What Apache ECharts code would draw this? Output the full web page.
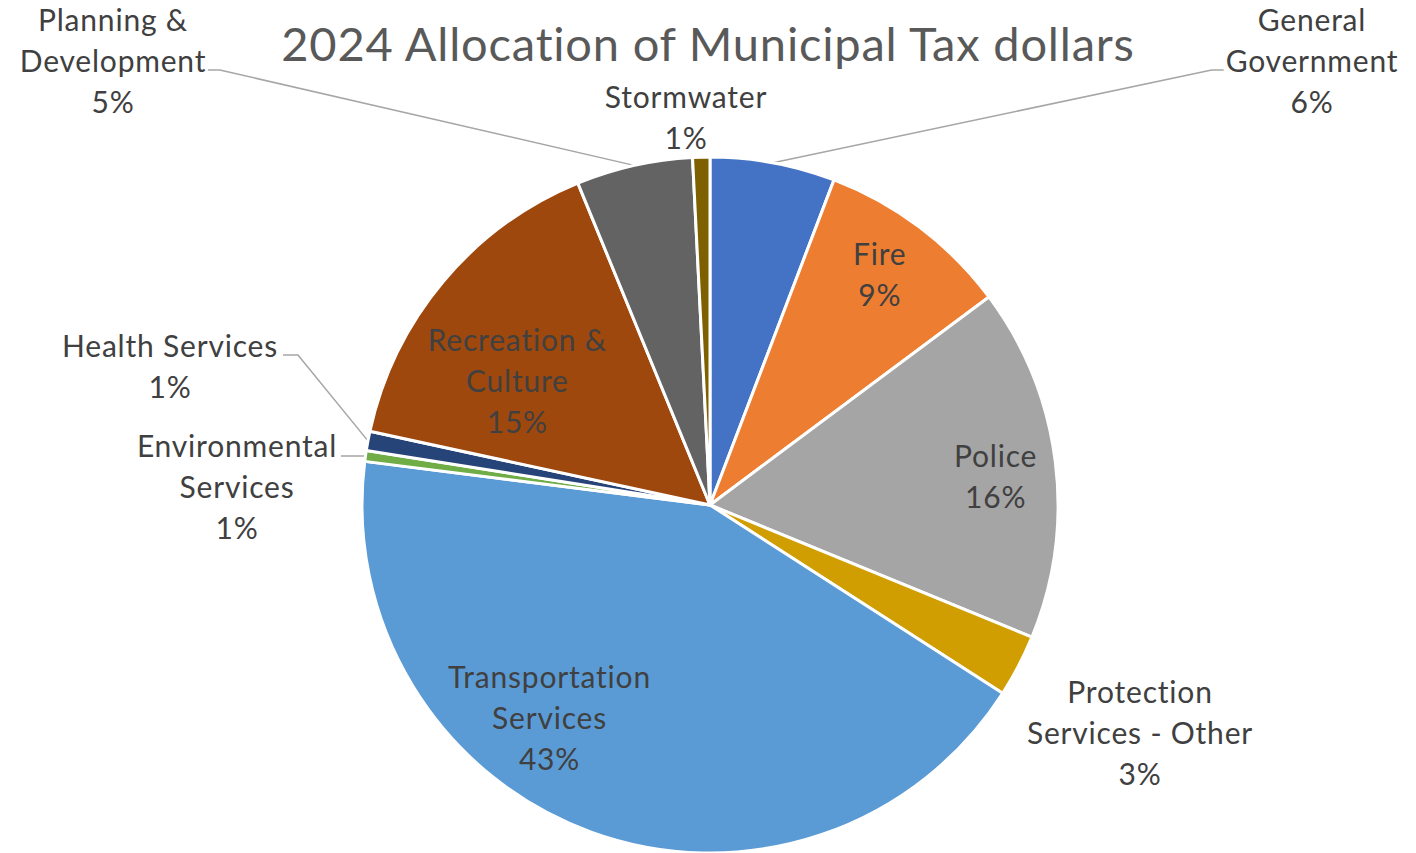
<!DOCTYPE html>
<html><head><meta charset="utf-8">
<script src="https://cdn.jsdelivr.net/npm/echarts@6/dist/echarts.min.js"></script>
<style>html,body{margin:0;padding:0;background:#fff}#c{width:1416px;height:853px}#c text{font-variant-ligatures:none;font-feature-settings:"liga" 0,"clig" 0;letter-spacing:0.8px}</style>
</head><body><div id="c"></div>
<script>
const chartTitle = '2024 Allocation of Municipal Tax dollars';
const categories = ['General\nGovernment', 'Fire', 'Police', 'Protection\nServices - Other', 'Transportation\nServices', 'Environmental\nServices', 'Health Services', 'Recreation &\nCulture', 'Planning &\nDevelopment', 'Stormwater'];
const shares = [5.8, 9.0, 16.4, 2.9, 42.9, 0.5, 0.9, 15.4, 5.4, 0.8];
const colors = ['#4472C4', '#ED7D31', '#A5A5A5', '#D09E00', '#5B9BD5', '#70AD47', '#264478', '#9E480E', '#636363', '#7F6000'];

// label layout (offsets for inside labels, placement for outside labels)
const insideOffsets = { 1: [63, -90], 2: [110, -7], 4: [-100, 46], 7: [-57, -11] };
const outsidePlacement = {
  0: { x: 1312, y: 60, side: 'left', ly: 10 },
  3: { x: 1140, y: 732 },
  5: { x: 237, y: 486, side: 'right', ly: -30 },
  6: { x: 170, y: 365, side: 'rightBend', ly: -10 },
  8: { x: 113, y: 60, side: 'right', ly: 10 },
  9: { x: 686, y: 116 }
};

const chart = echarts.init(document.getElementById('c'), null, { renderer: 'svg' });
const data = categories.map((name, i) => {
  const inside = insideOffsets[i] !== undefined;
  const o = outsidePlacement[i];
  return {
    name: name,
    value: shares[i],
    itemStyle: { color: colors[i] },
    label: { position: inside ? 'inside' : 'outside' },
    labelLine: { show: !inside && !!(o && o.side) }
  };
});

chart.setOption({
  animation: false,
  backgroundColor: '#ffffff',
  title: {
    text: chartTitle,
    left: 'center',
    top: 14,
    textStyle: { fontFamily: 'Lato', fontSize: 47, fontWeight: 'normal', color: '#595959' }
  },
  series: [{
    type: 'pie',
    center: [710, 505],
    radius: 348,
    startAngle: 90,
    clockwise: true,
    avoidLabelOverlap: false,
    itemStyle: { borderColor: '#ffffff', borderWidth: 3 },
    label: {
      show: true,
      fontFamily: 'Lato',
      fontSize: 30,
      lineHeight: 41,
      color: '#404040',
      formatter: p => p.name + '\n' + Math.round(p.percent) + '%'
    },
    labelLine: { lineStyle: { color: '#A6A6A6', width: 1.5 }, length: 20, length2: 20 },
    emphasis: { disabled: true },
    labelLayout: function (p) {
      const i = p.dataIndex;
      if (insideOffsets[i]) return { dx: insideOffsets[i][0], dy: insideOffsets[i][1] };
      const o = outsidePlacement[i];
      if (!o) return {};
      const w = p.labelRect.width + 8;
      const res = { x: o.x, y: o.y, align: 'center', verticalAlign: 'middle' };
      const pts = p.labelLinePoints;
      if (pts && o.side) {
        const p0 = pts[0];
        if (o.side === 'left') {
          res.labelLinePoints = [p0, [o.x - w / 2 - 14, o.y + o.ly], [o.x - w / 2 - 2, o.y + o.ly]];
        } else if (o.side === 'right') {
          if (o.ly > 0) {
            res.labelLinePoints = [p0, [o.x + w / 2 + 14, o.y + o.ly], [o.x + w / 2 + 2, o.y + o.ly]];
          } else {
            const e = [o.x + w / 2 + 5, o.y + o.ly];
            res.labelLinePoints = [p0, e, e];
          }
        } else {
          res.labelLinePoints = [p0, [o.x + w / 2 + 22, o.y + o.ly], [o.x + w / 2 + 7, o.y + o.ly]];
        }
      }
      return res;
    },
    data: data
  }]
});
</script>
</body></html>
